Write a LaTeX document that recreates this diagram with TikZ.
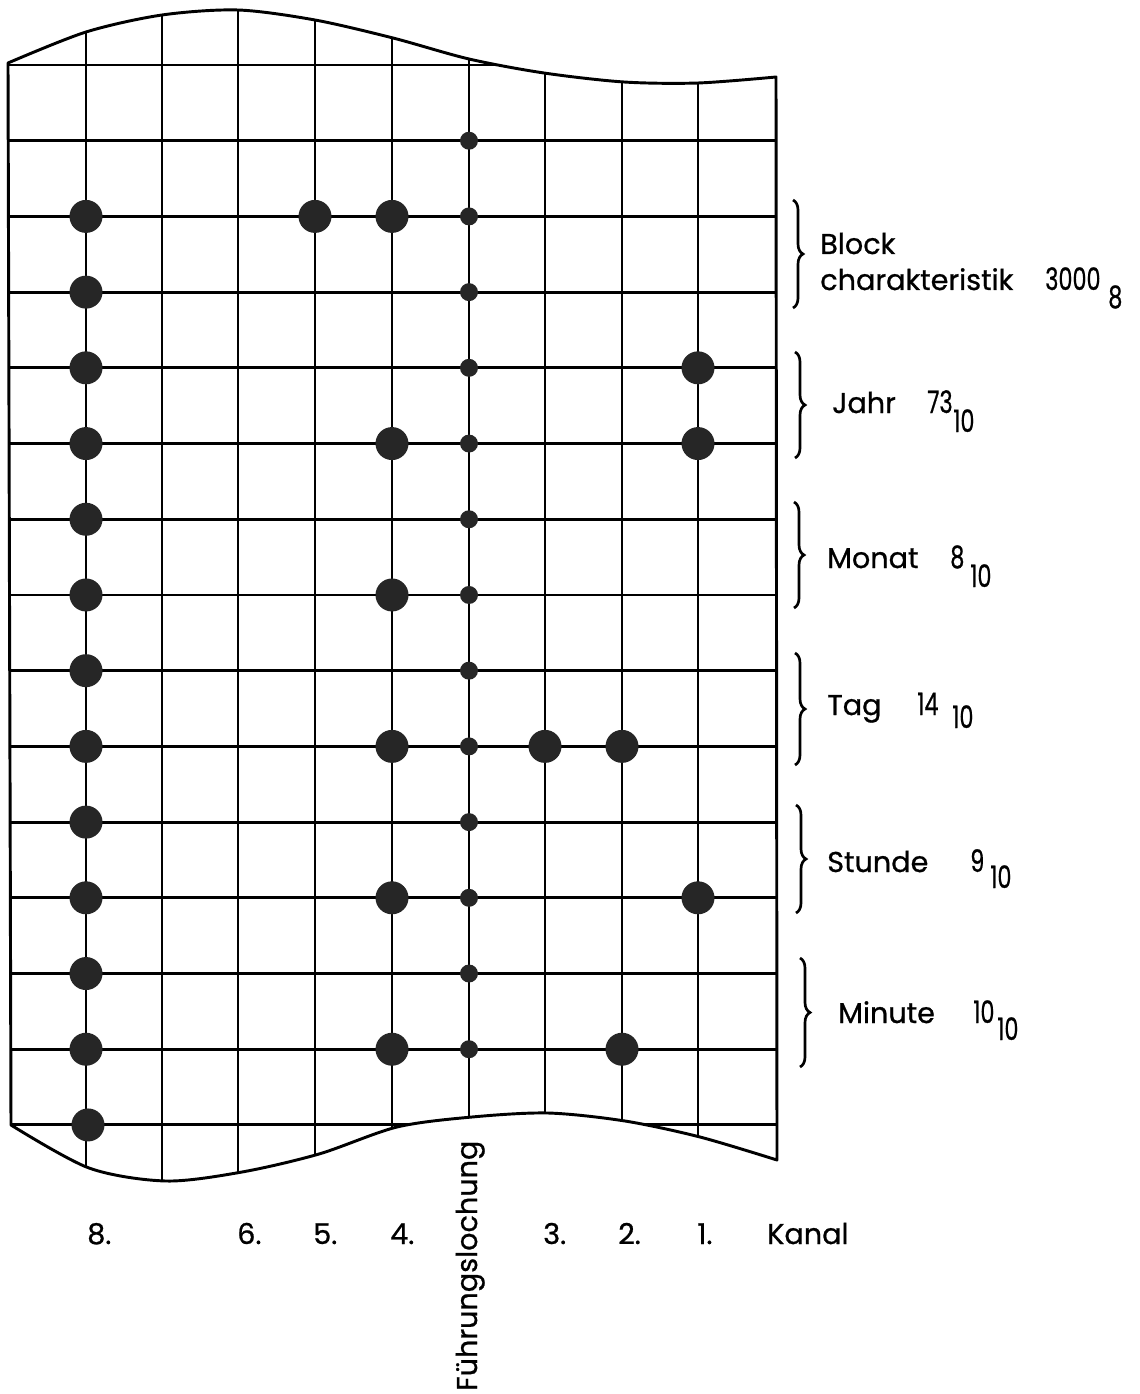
\documentclass[tikz,border=0pt]{standalone}
\usepackage{graphicx}
\usepackage{fontspec}
\setmainfont{Poppins}[FakeBold=0.8]
\usetikzlibrary{decorations.pathreplacing}
\newcommand\narrownum[1]{\scalebox{0.78}[1.08]{#1}}
\begin{document}
\begin{tikzpicture}[x=0.75pt,y=-0.75pt,
  gridline/.style={line width=2.2pt},
  outline/.style={line width=2.2pt, line join=round},
  bigdot/.style={circle, fill=black!85, draw=none, minimum size=24.75pt, inner sep=0pt},
  smalldot/.style={circle, fill=black!85, draw=none, minimum size=13.5pt, inner sep=0pt},
  lbl/.style={anchor=base west, inner sep=0pt, font=\fontsize{21.5}{24}\selectfont},
  brc/.style={decorate, decoration={brace, amplitude=7.5pt}, line width=2pt},
]
\useasboundingbox (0,0) rectangle (1139,1394);

% grid clipped by the tape outline
\begin{scope}
\clip plot[smooth] coordinates {(8,63) (86,32) (162,15) (238,10) (315,20) (393,38) (469,59) (544,73) (624,82) (698,83) (776,77)}
  -- (777,1160)
  -- plot[smooth] coordinates {(777,1160) (700,1137) (625,1121) (548,1113) (472,1117) (397,1127) (319,1154) (242,1172) (166,1181) (89,1168) (11,1125)}
  -- cycle;
\foreach \k in {0,...,14} \draw[gridline] (0,{65+75.71*\k}) -- (800,{65+75.71*\k});
\foreach \x in {86,162,238,315,392,469,545,622,698} \draw[gridline] (\x,0) -- (\x,1200);
\end{scope}

% tape outline
\draw[outline] plot[smooth] coordinates {(8,63) (86,32) (162,15) (238,10) (315,20) (393,38) (469,59) (544,73) (624,82) (698,83) (776,77)}
  -- (777,1160)
  -- plot[smooth] coordinates {(777,1160) (700,1137) (625,1121) (548,1113) (472,1117) (397,1127) (319,1154) (242,1172) (166,1181) (89,1168) (11,1125)}
  -- cycle;

% feed holes (Fuehrungslochung)
\foreach \k in {1,...,13} \node[smalldot] (f\k) at (469,{65+75.71*\k}) {};

% data holes
\foreach \k/\x in {2/86,2/315,2/392,3/86,4/86,4/698,5/86,5/392,5/698,6/86,7/86,7/392,8/86,
  9/86,9/392,9/545,9/622,10/86,11/86,11/392,11/698,12/86,13/86,13/392,13/622,14/88}
  \node[bigdot] (h\k-\x) at (\x,{65+75.71*\k}) {};

% braces
\draw[brc] (793,200) -- (793,308);
\draw[brc] (795,352) -- (795,458);
\draw[brc] (794,502) -- (794,608);
\draw[brc] (795,653) -- (795,765);
\draw[brc] (796,805) -- (796,913);
\draw[brc] (800,958) -- (800,1067);

% right labels
\node[lbl] (block) at (820,254) {Block};
\node[lbl] (charak) at (820,290) {charakteristik};
\node[lbl] (blockval) at (1045,290) {\narrownum{3000}};
\node[lbl] (blocksub) at (1108,308) {\narrownum{8}};
\node[lbl] (jahr) at (832,413) {Jahr};
\node[lbl] (jahrval) at (927,413) {\narrownum{73}};
\node[lbl] (jahrsub) at (953,432) {\narrownum{10}};
\node[lbl] (monat) at (827,568) {Monat};
\node[lbl] (monatval) at (950,568) {\narrownum{8}};
\node[lbl] (monatsub) at (970,587) {\narrownum{10}};
\node[lbl] (tag) at (827,715) {Tag};
\node[lbl] (tagval) at (917,715) {\narrownum{14}};
\node[lbl] (tagsub) at (952,728) {\narrownum{10}};
\node[lbl] (stunde) at (827,872) {Stunde};
\node[lbl] (stundeval) at (970,872) {\narrownum{9}};
\node[lbl] (stundesub) at (990,888) {\narrownum{10}};
\node[lbl] (minute) at (838,1023) {Minute};
\node[lbl] (minuteval) at (973,1023) {\narrownum{10}};
\node[lbl] (minutesub) at (997,1040) {\narrownum{10}};

% channel labels
\node[lbl] (k8) at (87,1244) {8.};
\node[lbl] (k6) at (237,1244) {6.};
\node[lbl] (k5) at (313,1244) {5.};
\node[lbl] (k4) at (390,1244) {4.};
\node[lbl] (k3) at (543,1244) {3.};
\node[lbl] (k2) at (618,1244) {2.};
\node[lbl] (k1) at (697,1244) {1.};
\node[lbl] (kanal) at (767,1244) {Kanal};
\node[lbl, rotate=90] (fuehrung) at (477,1391) {Führungslochung};
\end{tikzpicture}
\end{document}
